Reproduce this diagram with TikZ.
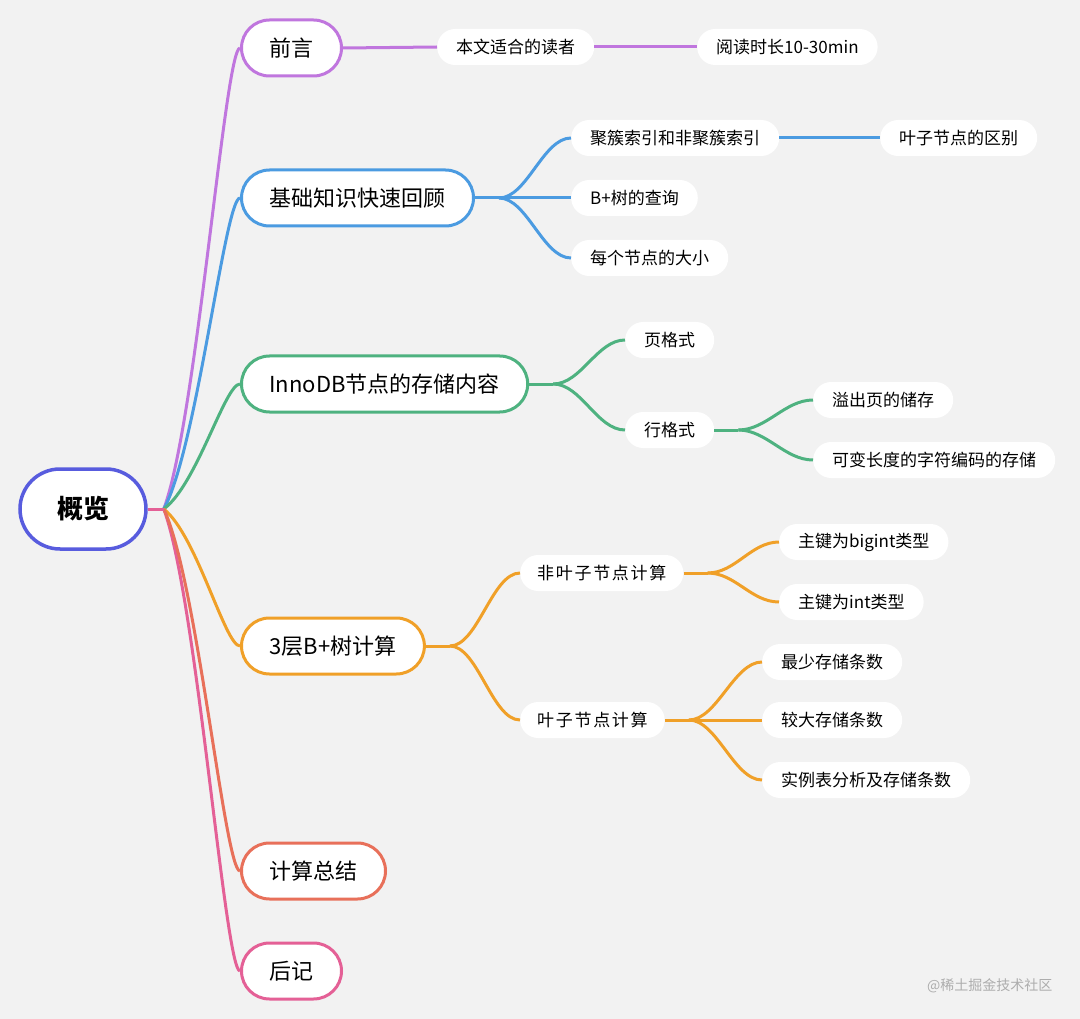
\documentclass[tikz,border=0pt]{standalone}
\usepackage{fontspec}
\setmainfont{Noto Sans CJK SC}
\newfontfamily\widefont[LetterSpace=10]{Noto Sans CJK SC}
\usepackage{tikz}
\definecolor{paper}{RGB}{242,242,242}
\definecolor{indigo}{RGB}{88,92,222}
\definecolor{lilac}{RGB}{192,118,222}
\definecolor{skyblue}{RGB}{75,155,225}
\definecolor{mint}{RGB}{78,178,128}
\definecolor{amber}{RGB}{240,160,40}
\definecolor{coral}{RGB}{232,112,90}
\definecolor{rose}{RGB}{228,96,150}
\usetikzlibrary{positioning}
\tikzset{%
  root/.style={draw=indigo, line width=3.5pt, fill=white, rectangle, rounded corners=40pt,
    minimum height=80pt, inner xsep=37pt, font=\fontsize{26}{30}\selectfont\bfseries},% centre topic
  topic/.style={draw, line width=3pt, fill=white, rectangle, rounded corners=28pt,
    minimum height=56pt, inner xsep=28pt, anchor=west, font=\fontsize{22}{26}\selectfont},% main branch
  leaf/.style={fill=white, rectangle, rounded corners=18pt, minimum height=36pt,
    inner xsep=19pt, anchor=west, font=\fontsize{17}{20}\selectfont},% white pill
  wideleaf/.style={leaf, inner xsep=17pt, font=\widefont\fontsize{17}{20}\selectfont},% spaced pill
  twig/.style={line width=3pt}% connector
}

\begin{document}
\begin{tikzpicture}[x=1pt, y=-1pt]
\path[use as bounding box, fill=paper] (0,0) rectangle (1080,1019);

\node[root] (root) at (83,509) {概览};

\node[topic, draw=lilac] (qianyan) at (240,48) {前言};
\node[topic, draw=skyblue] (jichu) at (240,198) {基础知识快速回顾};
\node[topic, draw=mint] (innodb) at (240,384) {InnoDB节点的存储内容};
\node[topic, draw=amber] (jisuan) at (240,646) {3层B+树计算};
\node[topic, draw=coral] (zongjie) at (240,871) {计算总结};
\node[topic, draw=rose] (houji) at (240,971) {后记};

\node[leaf] (duzhe) at (437,47) {本文适合的读者};
\node[leaf] (shichang) at (697,47) {阅读时长10-30min};

\node[leaf] (jucu) at (571,138) {聚簇索引和非聚簇索引};
\node[leaf] (qubie) at (880,138) {叶子节点的区别};
\node[leaf] (chaxun) at (571,198) {B+树的查询};
\node[leaf] (daxiao) at (571,258) {每个节点的大小};

\node[leaf] (ye) at (625,340) {页格式};
\node[leaf] (hang) at (625,430) {行格式};
\node[leaf] (yichu) at (813,400) {溢出页的储存};
\node[leaf] (bianchang) at (813,460) {可变长度的字符编码的存储};

\node[wideleaf] (feiye) at (520,573) {非叶子节点计算};
\node[leaf] (bigint) at (779,542) {主键为bigint类型};
\node[leaf] (int) at (779,602) {主键为int类型};
\node[wideleaf] (yezi) at (520,720) {叶子节点计算};
\node[leaf] (zuishao) at (762,662) {最少存储条数};
\node[leaf] (jiaoda) at (762,720) {较大存储条数};
\node[leaf] (shili) at (762,780) {实例表分析及存储条数};

%% main branches
\coordinate[right=16pt of root] (hub);
\draw[twig, lilac] (hub) .. controls +(33,-88) and +(-15,0) .. (qianyan.west);
\draw[twig, skyblue] (hub) .. controls +(33,-59) and +(-15,0) .. (jichu.west);
\draw[twig, mint] (hub) .. controls +(33,-24) and +(-15,0) .. (innodb.west);
\draw[twig, amber] (hub) .. controls +(33,26) and +(-15,0) .. (jisuan.west);
\draw[twig, rose] (hub) .. controls +(33,88) and +(-15,0) .. (houji.west);
\draw[twig, coral] (hub) .. controls +(33,69) and +(-15,0) .. (zongjie.west);
\draw[twig, rose] (root.east) -- (hub);

%% sub branches
\draw[twig, lilac] (qianyan.east) -- (duzhe.west);
\draw[twig, lilac] (duzhe.east) -- (shichang.west);

\coordinate[right=24pt of jichu] (jb);
\draw[twig, skyblue] (jichu.east) -- (jb);
\draw[twig, skyblue] (jb) .. controls +(28,0) and +(-28,0) .. (jucu.west);
\draw[twig, skyblue] (jb) .. controls +(28,0) and +(-28,0) .. (chaxun.west);
\draw[twig, skyblue] (jb) .. controls +(28,0) and +(-28,0) .. (daxiao.west);
\draw[twig, skyblue] (jucu.east) -- (qubie.west);

\coordinate[right=24pt of innodb] (ib);
\draw[twig, mint] (innodb.east) -- (ib);
\draw[twig, mint] (ib) .. controls +(28,0) and +(-28,0) .. (ye.west);
\draw[twig, mint] (ib) .. controls +(28,0) and +(-28,0) .. (hang.west);
\coordinate[right=24pt of hang] (hb);
\draw[twig, mint] (hang.east) -- (hb);
\draw[twig, mint] (hb) .. controls +(28,0) and +(-28,0) .. (yichu.west);
\draw[twig, mint] (hb) .. controls +(28,0) and +(-28,0) .. (bianchang.west);

\coordinate[right=24pt of jisuan] (sb);
\draw[twig, amber] (jisuan.east) -- (sb);
\draw[twig, amber] (sb) .. controls +(28,0) and +(-28,0) .. (feiye.west);
\draw[twig, amber] (sb) .. controls +(28,0) and +(-28,0) .. (yezi.west);
\coordinate[right=24pt of feiye] (fb);
\draw[twig, amber] (feiye.east) -- (fb);
\draw[twig, amber] (fb) .. controls +(28,0) and +(-28,0) .. (bigint.west);
\draw[twig, amber] (fb) .. controls +(28,0) and +(-28,0) .. (int.west);
\coordinate[right=24pt of yezi] (yb);
\draw[twig, amber] (yezi.east) -- (yb);
\draw[twig, amber] (yb) .. controls +(28,0) and +(-28,0) .. (zuishao.west);
\draw[twig, amber] (yb) .. controls +(28,0) and +(-28,0) .. (jiaoda.west);
\draw[twig, amber] (yb) .. controls +(28,0) and +(-28,0) .. (shili.west);

\node[anchor=east, text=black!32, font=\fontsize{14}{16}\selectfont] (mark) at (1056,986) {@稀土掘金技术社区};
\end{tikzpicture}
\end{document}
